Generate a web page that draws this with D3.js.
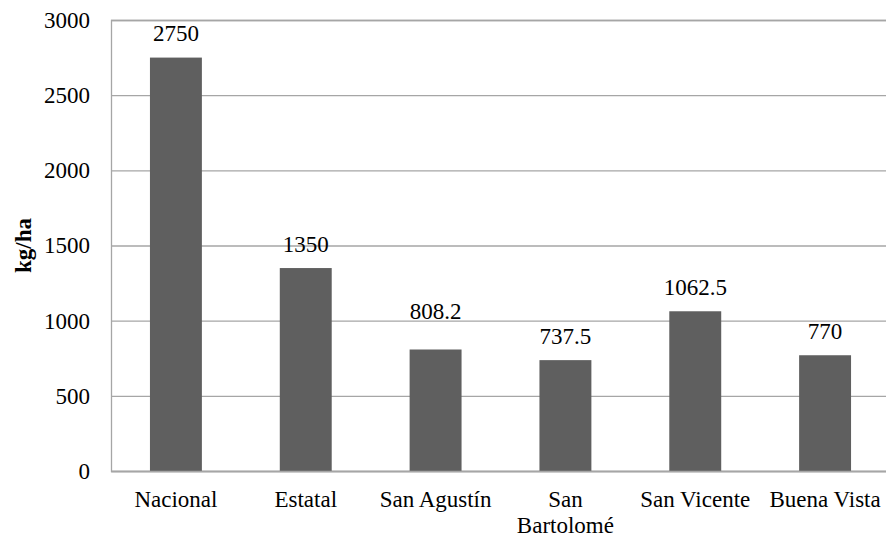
<!DOCTYPE html>
<html>
<head>
<meta charset="utf-8">
<script src="https://cdn.jsdelivr.net/npm/d3@7"></script>
<style>
  html, body { margin: 0; padding: 0; background: #fff; }
  svg { display: block; }
  svg text { font-family: "Liberation Serif", "Times New Roman", serif !important; fill: #000; }
</style>
</head>
<body>
<svg id="chart" width="886" height="539"></svg>
<script>
const categories = ["Nacional", "Estatal", "San Agustín", "San Bartolomé", "San Vicente", "Buena Vista"];
const values = [2750, 1350, 808.2, 737.5, 1062.5, 770];
const valueLabels = ["2750", "1350", "808.2", "737.5", "1062.5", "770"];
const yTicks = [0, 500, 1000, 1500, 2000, 2500, 3000];
const yTitle = "kg/ha";

const FONT = '"Liberation Serif", "Times New Roman", serif';
const FS = "23px";
const svg = d3.select("#chart").style("font-family", FONT);
const margin = { left: 111, top: 20, right: 890, bottom: 471 };

const x = d3.scaleBand()
  .domain(categories)
  .range([margin.left, margin.right])
  .paddingInner(0.6)
  .paddingOuter(0.3);

const y = d3.scaleLinear()
  .domain([0, 3000])
  .range([margin.bottom, margin.top]);

const gridColor = "#a6a6a6";

// gridlines + y axis
const yAxis = d3.axisLeft(y).tickValues(yTicks).tickSize(-(margin.right - margin.left)).tickFormat(d => d).tickPadding(21);
const gy = svg.append("g").attr("transform", `translate(${margin.left},0)`).call(yAxis)
  .attr("font-family", FONT).attr("font-size", 23);
gy.select(".domain").attr("stroke", gridColor).attr("stroke-width", 1.3);
gy.selectAll(".tick line").attr("stroke", gridColor).attr("stroke-width", 1.3);
gy.selectAll(".tick text").attr("fill", "#000").style("font-family", FONT).style("font-size", FS);

// bars
svg.append("g").selectAll("rect")
  .data(categories)
  .join("rect")
  .attr("x", d => x(d))
  .attr("width", x.bandwidth())
  .attr("y", (d, i) => y(values[i]))
  .attr("height", (d, i) => y(0) - y(values[i]))
  .attr("fill", "#5f5f5f");

// bottom axis
const xAxis = d3.axisBottom(x).tickSize(0).tickFormat("");
const gx = svg.append("g").attr("transform", `translate(0,${margin.bottom})`).call(xAxis);
gx.select(".domain").attr("stroke", gridColor).attr("stroke-width", 1.3);

// category labels with wrapping
const step = x.step();
const lab = svg.append("g").selectAll("text")
  .data(categories)
  .join("text")
  .attr("x", d => x(d) + x.bandwidth() / 2)
  .attr("y", 507)
  .attr("text-anchor", "middle")
  .style("font-family", FONT)
  .style("font-size", FS);
lab.each(function(d) {
  const t = d3.select(this);
  const cx = +t.attr("x");
  t.text(d);
  if (this.getComputedTextLength() > step - 2) {
    const words = d.split(" ");
    t.text(null);
    words.forEach((w, k) => {
      t.append("tspan").attr("x", cx).attr("dy", k === 0 ? 0 : 26).text(w);
    });
  }
});

// value labels
const labelLift = [0, 0, 14, 0, 0, 0];
svg.append("g").selectAll("text")
  .data(categories)
  .join("text")
  .attr("x", d => x(d) + x.bandwidth() / 2)
  .attr("y", (d, i) => y(values[i]) - 16.5 - labelLift[i])
  .attr("text-anchor", "middle")
  .style("font-family", FONT)
  .style("font-size", FS)
  .text((d, i) => valueLabels[i]);

// y title
svg.append("text")
  .attr("transform", `translate(31,${(margin.top + margin.bottom) / 2}) rotate(-90)`)
  .attr("text-anchor", "middle")
  .style("font-family", FONT)
  .style("font-size", FS)
  .attr("font-weight", "bold")
  .text(yTitle);
</script>
</body>
</html>
